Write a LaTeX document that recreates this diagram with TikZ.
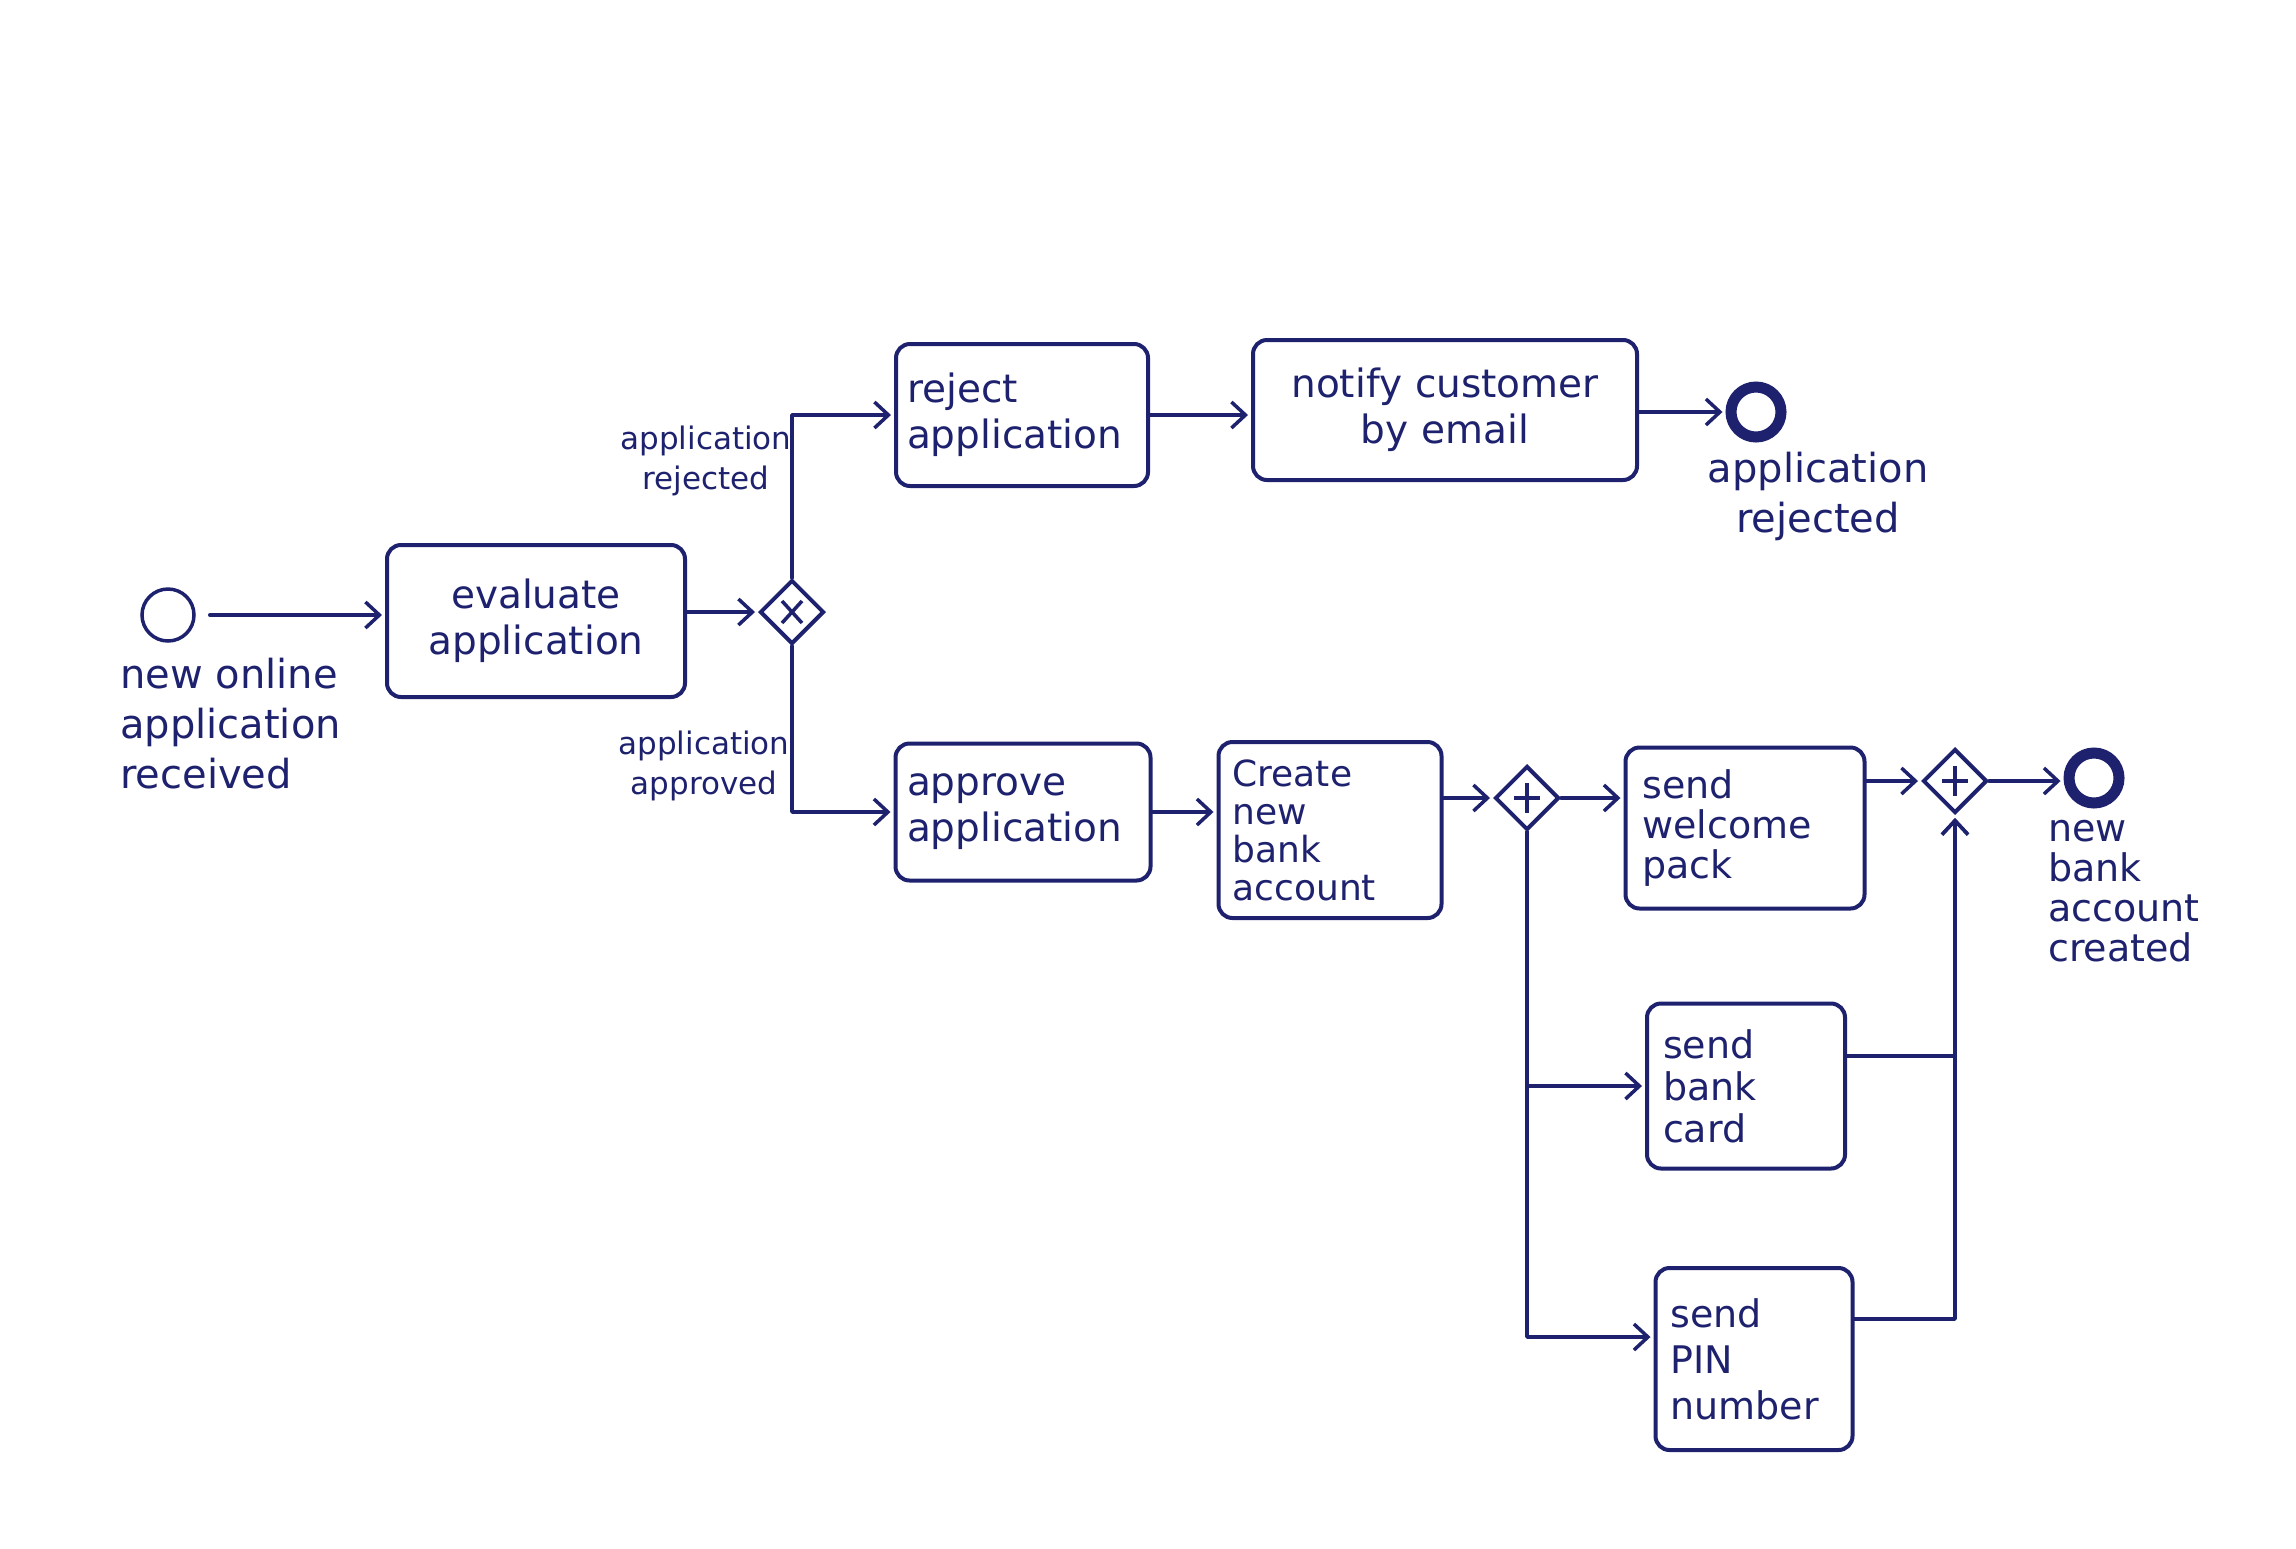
\documentclass[tikz,border=0pt]{standalone}
\usepackage{fontspec}
\setmainfont{DejaVu Sans}
\usetikzlibrary{arrows.meta,shapes.geometric,calc}
\definecolor{ink}{RGB}{30,34,110}
\begin{document}
\begin{tikzpicture}[x=1pt,y=-1pt,
  every node/.style={text=ink},
  task/.style={draw=ink, line width=4pt, rounded corners=14pt, inner sep=0pt,
    align=left, font=\fontsize{39}{46}\selectfont},
  gate/.style={diamond, aspect=1, draw=ink, line width=4pt, minimum size=64pt, inner sep=0pt},
  xmark/.style={path picture={
    \draw[ink, line width=3.5pt]
      ($(path picture bounding box.center)+(-10,-11)$) -- ($(path picture bounding box.center)+(10,11)$)
      ($(path picture bounding box.center)+(10,-11)$) -- ($(path picture bounding box.center)+(-10,11)$);}},
  plusmark/.style={path picture={
    \draw[ink, line width=3.5pt]
      ($(path picture bounding box.center)+(0,-15)$) -- ($(path picture bounding box.center)+(0,15)$)
      ($(path picture bounding box.center)+(-13,0)$) -- ($(path picture bounding box.center)+(13,0)$);}},
  startev/.style={circle, draw=ink, line width=3.5pt, minimum size=52pt, inner sep=0pt},
  endev/.style={circle, draw=ink, line width=11pt, minimum size=50pt, inner sep=0pt},
  lbl/.style={inner sep=0pt, font=\fontsize{40}{50}\selectfont},
  small/.style={inner sep=0pt, align=center, font=\fontsize{31}{40}\selectfont},
  flow/.style={draw=ink, line width=3.5pt, line cap=round, line join=round, shorten >=3pt,
    -{Straight Barb[length=14pt, width=26pt, line width=3.5pt]}}
]
\useasboundingbox[fill=white] (0,0) rectangle (2296,1548);

% start event and first task
\node[startev] (s) at (168,615) {};
\node[lbl, anchor=north west, align=left] (sl) at (120,658) {new online\\application\\received};
\node[task, minimum width=298pt, minimum height=152pt, text width=258pt, align=center] (eval) at (536,621) {evaluate\\application};

% exclusive gateway and its outgoing labels
\node[gate, xmark] (xor) at (792,612) {};
\node[small] (lrej) at (706,461) {application\\rejected};
\node[small] (lapp) at (704,766) {application\\approved};

% rejection path
\node[task, minimum width=252pt, minimum height=142pt, text width=230pt] (rej) at (1022,415) {reject\\application};
\node[task, minimum width=384pt, minimum height=140pt, text width=344pt, align=center] (notify) at (1445,410) {notify customer\\by email};
\node[endev] (e1) at (1756,412) {};
\node[lbl, anchor=north, align=center] (e1l) at (1818,452) {application\\rejected};

% approval path
\node[task, minimum width=255pt, minimum height=137pt, text width=232pt] (appr) at (1023,812) {approve\\application};
\node[task, minimum width=223pt, minimum height=176pt, text width=195pt, font=\fontsize{36}{38}\selectfont] (create) at (1330,830) {Create\\new\\bank\\account};
\node[gate, plusmark] (and1) at (1527,798) {};
\node[task, minimum width=239pt, minimum height=161pt, text width=205pt, font=\fontsize{38}{40}\selectfont] (wel) at (1745,828) {send\\welcome\\pack};
\node[task, minimum width=198pt, minimum height=165pt, text width=166pt, font=\fontsize{38}{42}\selectfont] (card) at (1746,1086) {send\\bank\\card};
\node[task, minimum width=197pt, minimum height=182pt, text width=167pt, font=\fontsize{38}{46}\selectfont] (pin) at (1754,1359) {send\\PIN\\number};
\node[gate, plusmark] (and2) at (1955,781) {};
\node[endev] (e2) at (2094,778) {};
\node[lbl, anchor=north west, align=left, font=\fontsize{38}{40}\selectfont] (e2l) at (2048,820) {new\\bank\\account\\created};

% sequence flows
\draw[flow, shorten <=14pt] (s) -- (s -| eval.west);
\draw[flow] (eval.east |- xor) -- (xor.west);
\draw[flow] (xor.north) |- (rej.west);
\draw[flow] (xor.south) |- (appr.west);
\draw[flow] (rej.east) -- (rej.east -| notify.west);
\draw[flow] (notify.east |- e1) -- (e1.west);
\draw[flow] (appr.east) -- (appr.east -| create.west);
\draw[flow] (create.east |- and1) -- (and1.west);
\draw[flow] (and1.east) -- (and1.east -| wel.west);
\draw[flow] (and1.south) |- (card.west);
\draw[flow] (and1.south) |- ($(pin.west)+(0,-22)$);
\draw[flow] (wel.east |- and2) -- (and2.west);
\draw[flow] ($(card.east)+(0,-30)$) -| (and2.south);
\draw[flow] ($(pin.east)+(0,-40)$) -| (and2.south);
\draw[flow] (and2.east) -- (and2.east -| e2.west);
\end{tikzpicture}
\end{document}
